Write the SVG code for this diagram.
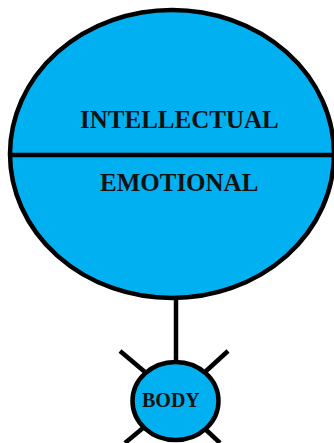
<svg xmlns="http://www.w3.org/2000/svg" width="334" height="443" viewBox="0 0 334 443">
<style>
.shape{fill:#00b0f0;stroke:#000;stroke-width:4.5}
.ln{stroke:#000;stroke-width:4.5;fill:none}
.t{font-family:"Liberation Serif",serif;font-weight:bold;fill:#111}
</style>
<rect width="334" height="443" fill="#fff"/>
<g id="connectors">
<line class="ln" x1="176" y1="298" x2="176" y2="362"/>
<line class="ln" x1="120" y1="351" x2="145" y2="372"/>
<line class="ln" x1="228" y1="351" x2="205" y2="372"/>
<line class="ln" x1="143" y1="428" x2="125" y2="443"/>
<line class="ln" x1="204" y1="428" x2="220" y2="443"/>
</g>
<g id="mind">
<ellipse class="shape" cx="172" cy="154" rx="162" ry="144"/>
<line class="ln" x1="10" y1="155" x2="334" y2="155"/>
<text class="t" x="80" y="128" font-size="25">INTELLECTUAL</text>
<text class="t" x="100" y="191" font-size="25">EMOTIONAL</text>
</g>
<g id="body">
<ellipse class="shape" cx="175.5" cy="401" rx="43" ry="39"/>
<text class="t" x="142" y="407" font-size="20">BODY</text>
</g>
</svg>
